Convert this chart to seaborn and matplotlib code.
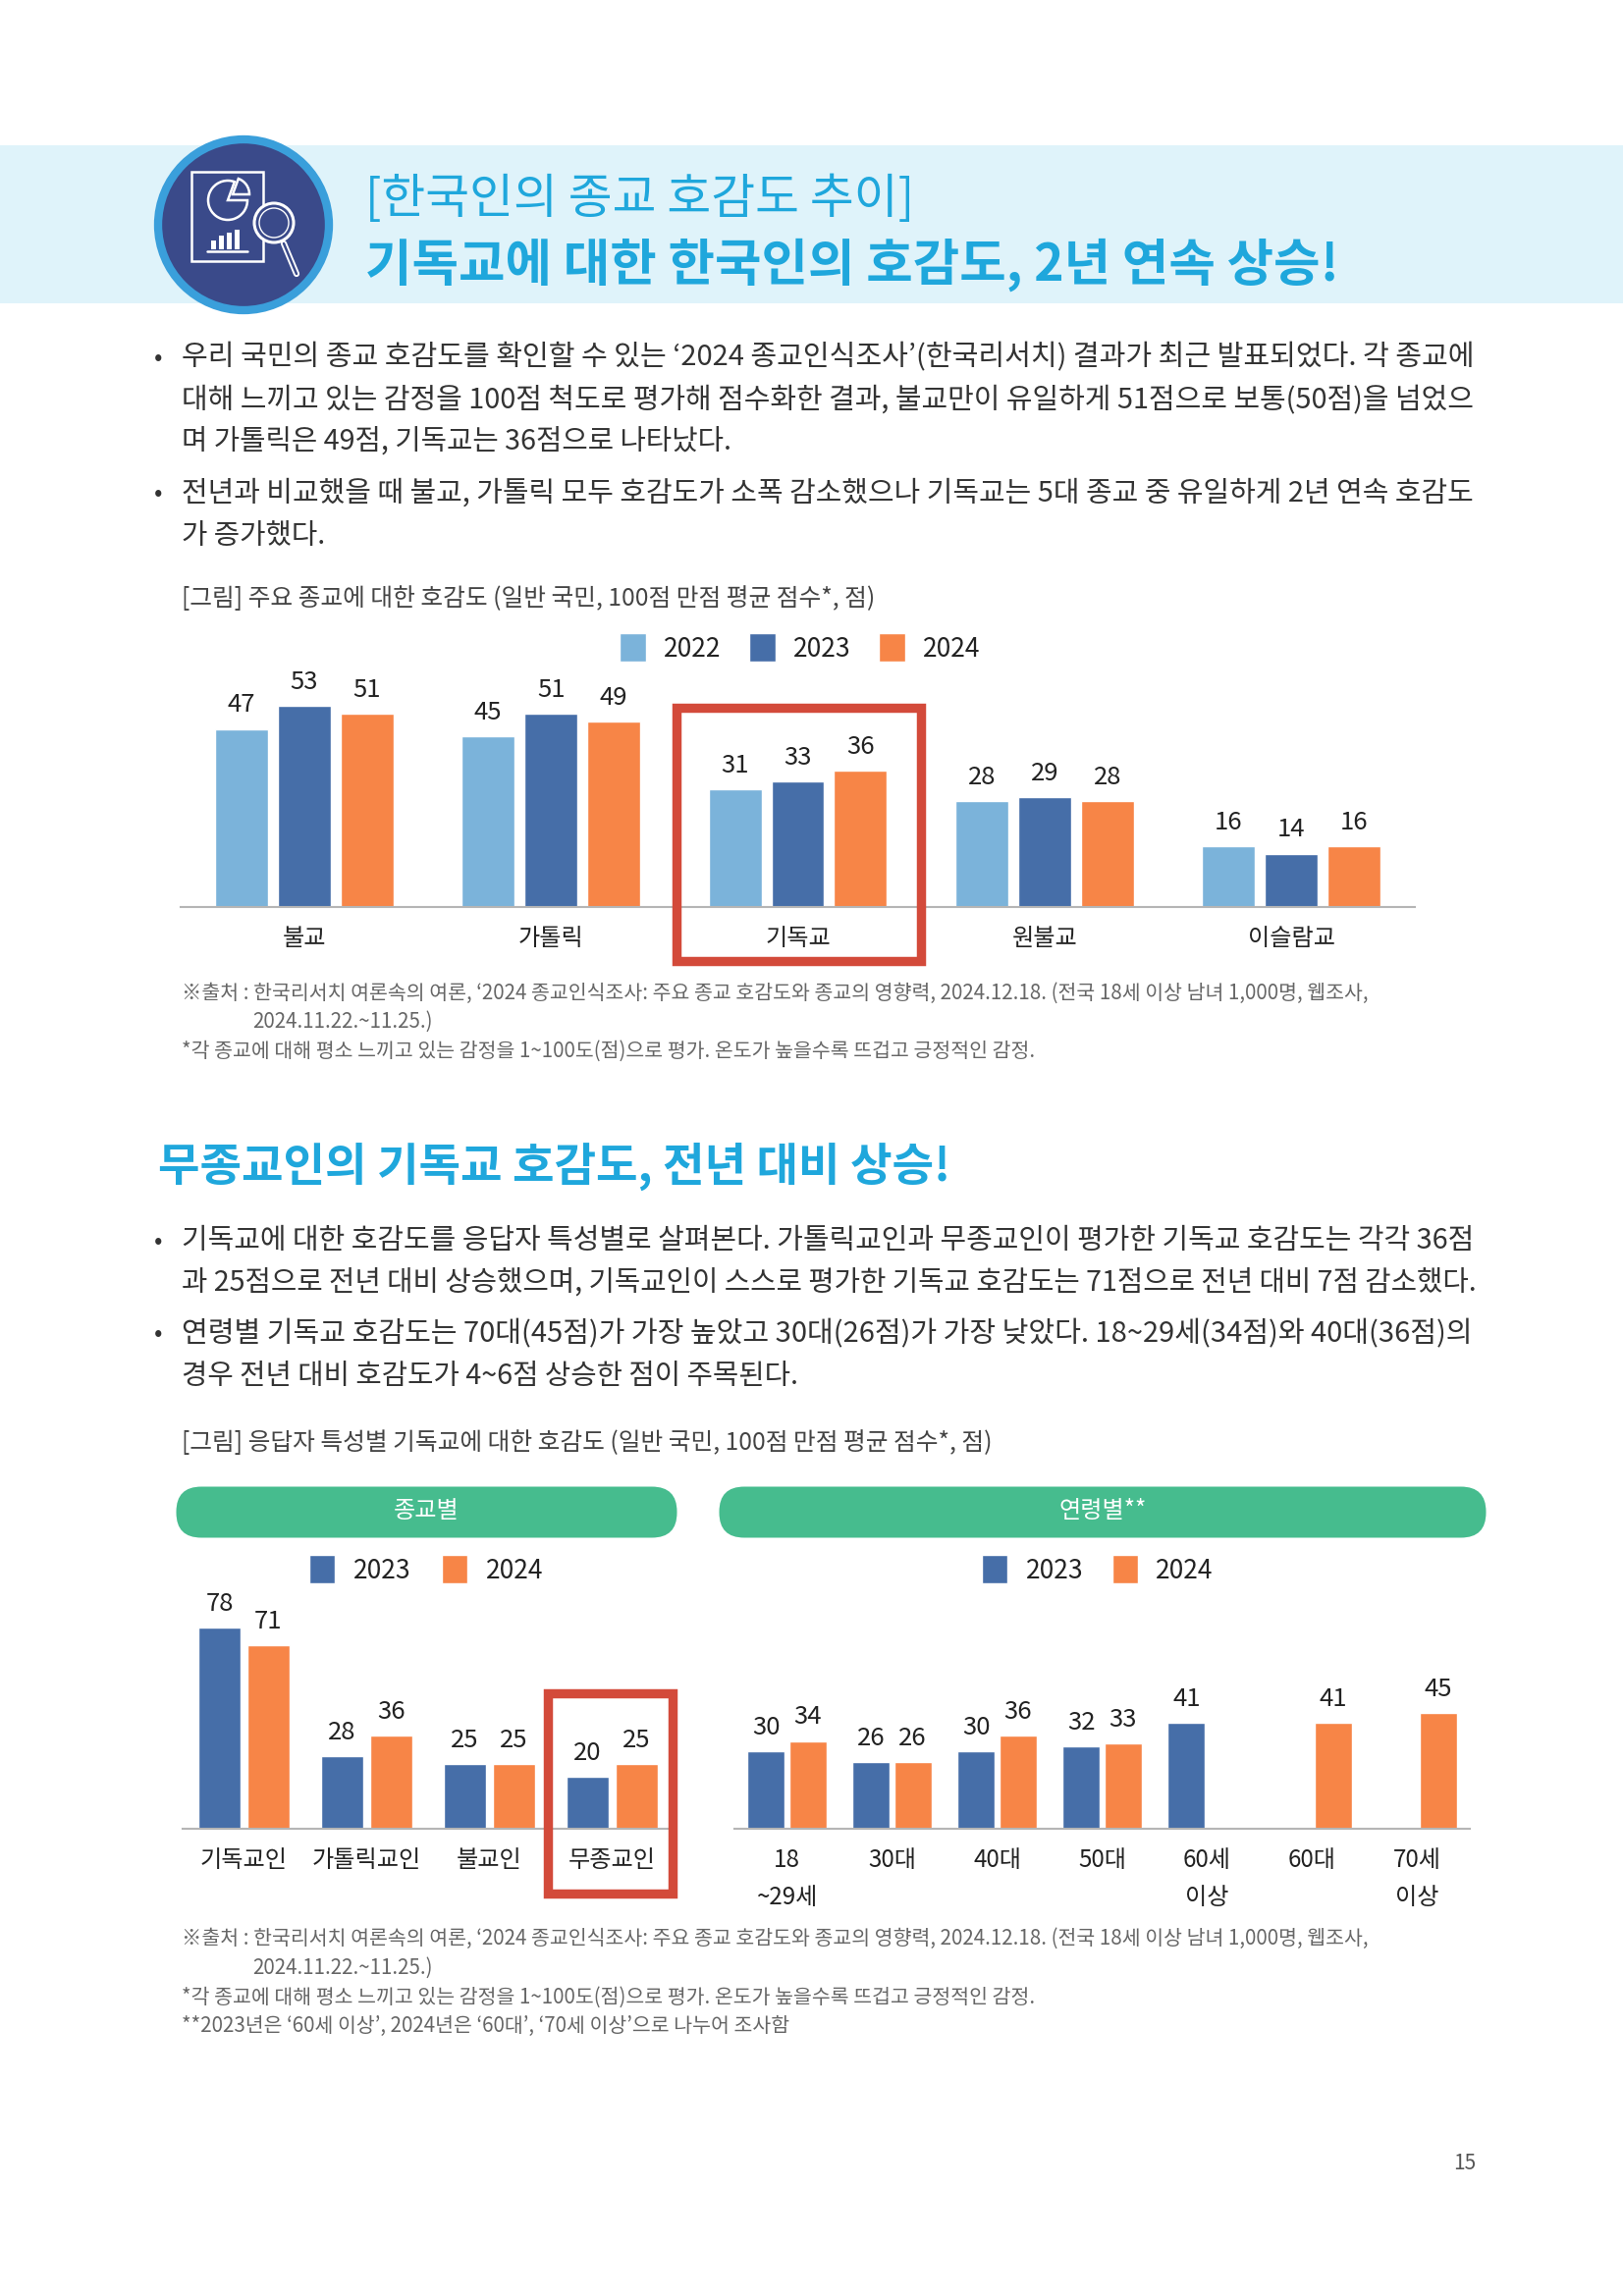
import numpy as np
import pandas as pd
import matplotlib.pyplot as plt
import seaborn as sns
from matplotlib.patches import Circle, FancyBboxPatch, Rectangle, Wedge

religions = ["불교", "가톨릭", "기독교", "원불교", "이슬람교"]
rel_2022 = [47, 45, 31, 28, 16]
rel_2023 = [53, 51, 33, 29, 14]
rel_2024 = [51, 49, 36, 28, 16]

groups = ["기독교인", "가톨릭교인", "불교인", "무종교인"]
group_2023 = [78, 28, 25, 20]
group_2024 = [71, 36, 25, 25]

ages = ["18\n~29세", "30대", "40대", "50대", "60세\n이상", "60대", "70세\n이상"]
age_2023 = [30, 26, 30, 32, 41, np.nan, np.nan]
age_2024 = [34, 26, 36, 33, np.nan, 41, 45]

colors = {"2022": "#7BB3DA", "2023": "#466EA8", "2024": "#F78547"}
W, H = 1653, 2339

sns.set_theme(style="white")
plt.rcParams["font.family"] = ["Noto Sans CJK KR", "DejaVu Sans"]

fig = plt.figure(figsize=(W / 100, H / 100), dpi=100, facecolor="white")


def long_table(cats, **years):
    df = pd.DataFrame({"cat": cats, **years})
    return df.melt(id_vars="cat", var_name="year", value_name="score")


def bar_panel(df, left, right, top, bottom, scale, width, gap, legend_x, legend_y, col_space):
    ax = fig.add_axes([left / W, 1 - bottom / H, (right - left) / W, (bottom - top) / H])
    ax.patch.set_alpha(0)
    sns.barplot(data=df, x="cat", y="score", hue="year", palette=colors, width=width, gap=gap,
                saturation=1, ax=ax)
    ax.set_ylim(0, (bottom - top) / scale)
    ax.set_xlim(-0.5, df["cat"].nunique() - 0.5)
    ax.set(xlabel="", ylabel="", yticks=[])
    sns.despine(ax=ax, left=True)
    ax.spines["bottom"].set_color("#B5B5B5")
    ax.spines["bottom"].set_linewidth(1.5)
    ax.tick_params(axis="x", length=0, pad=14, labelsize=17.4, labelcolor="#222222")
    plt.setp(ax.get_xticklabels(), linespacing=1.6)
    for c in ax.containers:
        ax.bar_label(c, fmt="%.0f", padding=8, fontsize=18.5, color="#222222")
    sns.move_legend(ax, "center", bbox_to_anchor=(legend_x / W, 1 - legend_y / H),
                    bbox_transform=fig.transFigure, ncol=df["year"].nunique(), frameon=False, title=None,
                    fontsize=19, handlelength=1.0, handleheight=1.32, handletextpad=0.7,
                    columnspacing=col_space, labelcolor="#222222")
    return ax


rel_df = long_table(religions, **{"2022": rel_2022, "2023": rel_2023, "2024": rel_2024})
group_df = long_table(groups, **{"2023": group_2023, "2024": group_2024})
age_df = long_table(ages, **{"2023": age_2023, "2024": age_2024})

bar_panel(rel_df, 184, 1441, 690, 923.5, 3.85, 0.763, 0.156, 815, 660, 1.08)
bar_panel(group_df, 186, 686, 1630, 1863, 2.63, 0.8, 0.14, 434, 1599, 1.2)
bar_panel(age_df, 748, 1497, 1630, 1863, 2.63, 0.79, 0.1, 1118, 1599, 1.1)

# page layer in pixel coordinates
page = fig.add_axes([0, 0, 1, 1], zorder=10)
page.set_xlim(0, W)
page.set_ylim(H, 0)
page.axis("off")
page.patch.set_alpha(0)

BLUE = "#1FA7DC"
BODY = "#333333"
NOTE = "#666666"


def put(x, y, s, size=20.7, color=BODY, weight="normal", ha="left"):
    page.text(x, y + 1.5, s, fontsize=size, color=color, fontweight=weight, ha=ha, va="center")


# banner
page.add_patch(Rectangle((0, 148), W, 161, fc="#DFF3FA", ec="none"))
page.add_patch(Circle((248, 229), 87, fc="#3A4A8A", ec="#3A9FDB", lw=6))
page.add_patch(Rectangle((195, 175), 73, 91, fc="none", ec="white", lw=1.8))
page.add_patch(Wedge((232, 204), 20, 0, 290, fc="none", ec="white", lw=1.8))
page.add_patch(Wedge((237, 198), 17, 290, 360, fc="none", ec="white", lw=1.8))
for bx, bh in zip([215, 223, 231, 239], [9, 14, 17, 20]):
    page.add_patch(Rectangle((bx, 254 - bh), 5, bh, fc="white", ec="none"))
page.plot([211, 252], [256, 256], color="white", lw=1.8)
page.add_patch(Circle((279, 227), 20, fc="#3A4A8A", ec="white", lw=2.2))
page.add_patch(Circle((279, 227), 15, fc="none", ec="white", lw=1))
page.plot([289, 302], [248, 279], color="white", lw=4.5, solid_capstyle="round")
page.plot([289, 302], [248, 279], color="#3A4A8A", lw=1.8, solid_capstyle="round")

put(372, 202, "[한국인의 종교 호감도 추이]", 35.1, BLUE)
put(372, 268, "기독교에 대한 한국인의 호감도, 2년 연속 상승!", 37.15, BLUE, "bold")

# body text: y, bullet, font size, line
body_lines = [
    (363, True, 20.96, "우리 국민의 종교 호감도를 확인할 수 있는 ‘2024 종교인식조사’(한국리서치) 결과가 최근 발표되었다. 각 종교에"),
    (406, False, 20.87, "대해 느끼고 있는 감정을 100점 척도로 평가해 점수화한 결과, 불교만이 유일하게 51점으로 보통(50점)을 넘었으"),
    (448, False, 20.65, "며 가톨릭은 49점, 기독교는 36점으로 나타났다."),
    (501, True, 20.84, "전년과 비교했을 때 불교, 가톨릭 모두 호감도가 소폭 감소했으나 기독교는 5대 종교 중 유일하게 2년 연속 호감도"),
    (545, False, 20.7, "가 증가했다."),
    (1263, True, 20.84, "기독교에 대한 호감도를 응답자 특성별로 살펴본다. 가톨릭교인과 무종교인이 평가한 기독교 호감도는 각각 36점"),
    (1305, False, 20.66, "과 25점으로 전년 대비 상승했으며, 기독교인이 스스로 평가한 기독교 호감도는 71점으로 전년 대비 7점 감소했다."),
    (1358, True, 20.97, "연령별 기독교 호감도는 70대(45점)가 가장 높았고 30대(26점)가 가장 낮았다. 18~29세(34점)와 40대(36점)의"),
    (1401, False, 20.65, "경우 전년 대비 호감도가 4~6점 상승한 점이 주목된다."),
]
for y, bullet, size, line in body_lines:
    if bullet:
        put(157, y, "•", 18)
    put(185, y, line, size)

put(185, 609, "[그림] 주요 종교에 대한 호감도 (일반 국민, 100점 만점 평균 점수*, 점)", 17.8, "#444444")
put(185, 1469, "[그림] 응답자 특성별 기독교에 대한 호감도 (일반 국민, 100점 만점 평균 점수*, 점)", 17.8, "#444444")

source = "※출처 : 한국리서치 여론속의 여론, ‘2024 종교인식조사: 주요 종교 호감도와 종교의 영향력, 2024.12.18. (전국 18세 이상 남녀 1,000명, 웹조사,"
period = "2024.11.22.~11.25.)"
temp = "*각 종교에 대해 평소 느끼고 있는 감정을 1~100도(점)으로 평가. 온도가 높을수록 뜨겁고 긍정적인 감정."
split = "**2023년은 ‘60세 이상’, 2024년은 ‘60대’, ‘70세 이상’으로 나누어 조사함"

put(185, 1010, source, 14.75, NOTE)
put(257, 1039, period, 14.75, NOTE)
put(185, 1069, temp, 14.75, NOTE)
put(185, 1973, source, 14.75, NOTE)
put(257, 2003, period, 14.75, NOTE)
put(185, 2033, temp, 14.75, NOTE)
put(185, 2062, split, 14.75, NOTE)

put(161, 1187, "무종교인의 기독교 호감도, 전년 대비 상승!", 33.3, BLUE, "bold")

# section pills
for x0, x1, label in [(180, 689, "종교별"), (733, 1513, "연령별**")]:
    page.add_patch(FancyBboxPatch((x0 + 25, 1515 + 25), x1 - x0 - 50, 1, boxstyle="round,pad=25.5",
                                  fc="#46BC8E", ec="none"))
    put((x0 + x1) / 2, 1538, label, 17.4, "white", ha="center")

# highlight boxes
for x0, y0, x1, y1 in [(689, 721, 938, 979), (558, 1725, 685, 1929)]:
    page.add_patch(Rectangle((x0, y0), x1 - x0, y1 - y0, fc="none", ec="#D34A3A", lw=6.8, joinstyle="miter"))

put(1492, 2203, "15", 15, "#555555", ha="center")

fig.savefig("out.png", dpi=100)
